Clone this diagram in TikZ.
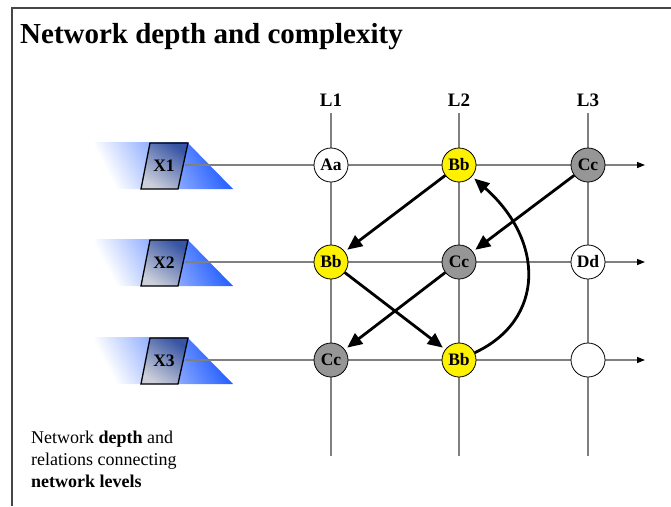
\documentclass[tikz,border=0pt]{standalone}
\usepackage{fontspec}
\setmainfont{Liberation Serif}
\usetikzlibrary{arrows.meta}
\definecolor{gridgray}{RGB}{128,128,128}
\definecolor{framegray}{RGB}{70,70,70}
\definecolor{nodegray}{RGB}{150,150,150}
\definecolor{inblue}{RGB}{30,90,255}
\definecolor{boxdark}{RGB}{55,85,165}
\definecolor{boxlight}{RGB}{205,208,218}
\tikzset{
  gridline/.style={draw=gridgray, line width=1.4pt},
  flowline/.style={gridline, -{Triangle[length=8pt,width=6pt,color=black]}},
  unit/.style={circle, draw=black, line width=0.8pt, minimum size=34pt, inner sep=0pt,
    font=\fontsize{17.5}{17.5}\selectfont\bfseries},
  relation/.style={draw=black, line width=2.8pt, shorten >=3pt,
    -{Triangle[length=15pt,width=13pt]}},
  level/.style={font=\fontsize{19}{19}\selectfont\bfseries},
  inlabel/.style={font=\fontsize{17.5}{17.5}\selectfont\bfseries},
}
\begin{document}
\begin{tikzpicture}[x=1pt, y=-1pt]
\useasboundingbox (0,0) rectangle (671,506);
% page frame
\draw[framegray, line width=1.4pt] (12,506) -- (12,8) -- (671,8);
\node[anchor=base west, inner sep=0pt, font=\fontsize{29}{29}\selectfont\bfseries] (title) at (20,43) {Network depth and complexity};

% input wedges with their parallelogram sources
\foreach \r/\y in {1/165, 2/262, 3/360} {
  \shade[top color=inblue, bottom color=white, shading angle=-62]
    (95,\y-23) -- (187,\y-23) -- (233,\y+24) -- (95,\y+24) -- cycle;
  \shade[top color=boxdark, bottom color=boxlight, shading angle=-35, draw=black, line width=1.3pt]
    (150,\y-22) -- (188,\y-22) -- (178,\y+24) -- (141,\y+24) -- cycle;
  \node[inlabel] (x\r) at (164,\y+1) {X\r};
  \coordinate (hs\r) at (185,\y);
  \coordinate (he\r) at (645,\y);
}

% level columns
\foreach \c/\x in {1/331, 2/459, 3/588} {
  \coordinate (vt\c) at (\x,113);
  \coordinate (vb\c) at (\x,456);
  \draw[gridline] (vt\c) -- (vb\c);
  \node[level] (l\c) at (\x,100) {L\c};
}
\foreach \r in {1,2,3} \draw[flowline] (hs\r) -- (he\r);

% units
\node[unit, fill=white]    (aa1) at (331,165) {Aa};
\node[unit, fill=yellow]   (bb1) at (459,165) {Bb};
\node[unit, fill=nodegray] (cc1) at (588,165) {Cc};
\node[unit, fill=yellow]   (bb2) at (331,262) {Bb};
\node[unit, fill=nodegray] (cc2) at (459,262) {Cc};
\node[unit, fill=white]    (dd2) at (588,262) {Dd};
\node[unit, fill=nodegray] (cc3) at (331,360) {Cc};
\node[unit, fill=yellow]   (bb3) at (459,360) {Bb};
\node[unit, fill=white]    (e3)  at (588,360) {};

% relations between levels
\draw[relation] (bb1) -- (bb2);
\draw[relation] (cc1) -- (cc2);
\draw[relation] (bb2) -- (bb3);
\draw[relation] (cc2) -- (cc3);
\draw[relation] (bb3) .. controls (545,320) and (545,241) .. (bb1);

\node[anchor=north west, align=left, inner sep=0pt,
  font=\fontsize{18}{22}\selectfont] (note) at (31,431)
  {Network \textbf{depth} and\\relations connecting\\\textbf{network levels}};
\end{tikzpicture}
\end{document}
